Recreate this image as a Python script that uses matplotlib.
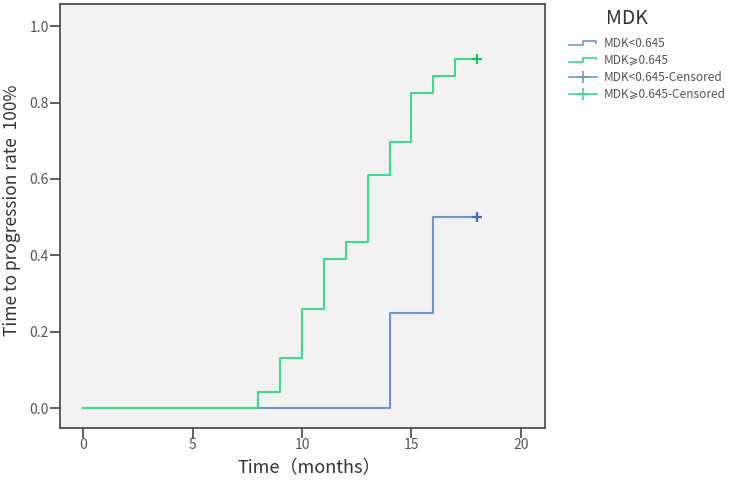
import matplotlib
matplotlib.use("Agg")
import matplotlib.pyplot as plt
from matplotlib.lines import Line2D
from matplotlib.legend_handler import HandlerBase

plt.rcParams['font.family'] = ['Noto Sans CJK SC', 'DejaVu Sans']

# step data (time in months, cumulative progression rate)
low_times = [0, 14, 16, 18]
low_rates = [0.0, 0.25, 0.5, 0.5]
high_times = [0, 8, 9, 10, 11, 12, 13, 14, 15, 16, 17, 18]
high_rates = [0.0, 0.043, 0.13, 0.26, 0.39, 0.435, 0.609, 0.696, 0.826, 0.87, 0.913, 0.913]
censor_low = [18]
censor_low_rate = [0.5]
censor_high = [18]
censor_high_rate = [0.913]

labels = ["MDK<0.645", "MDK\u2a7e0.645", "MDK<0.645-Censored", "MDK\u2a7e0.645-Censored"]

blue = "#7593cb"
green = "#3ed98c"
blue_dark = "#4a69b3"
green_dark = "#17c067"


class StepHandler(HandlerBase):
    def create_artists(self, legend, orig_handle, xdescent, ydescent,
                       width, height, fontsize, trans):
        x0, x1 = -xdescent, -xdescent + width
        ym = -ydescent + height * 0.25
        yt = -ydescent + height * 0.75
        xs = [x0, x0 + width * 0.5, x0 + width * 0.5, x1 - width * 0.05, x1 - width * 0.05]
        ys = [ym, ym, yt, yt, ym + height * 0.3]
        ln = Line2D(xs, ys, color=orig_handle.get_color(), lw=1.2, transform=trans)
        return [ln]


fig = plt.figure(figsize=(7.33, 4.88), dpi=100)
ax = fig.add_axes([0.0819, 0.123, 0.6617, 0.8689])
ax.set_facecolor("#f2f2f2")

ax.step(low_times, low_rates, where="post", color=blue, lw=1.5)
ax.step(high_times, high_rates, where="post", color=green, lw=1.5)
ax.plot(censor_low, censor_low_rate, marker="+", color=blue_dark, ms=7, mew=1.6, ls="none")
ax.plot(censor_high, censor_high_rate, marker="+", color=green_dark, ms=7, mew=1.6, ls="none")

ax.set_xlim(-1.07, 21.11)
ax.set_ylim(-0.052, 1.058)
ax.set_xticks([0, 5, 10, 15, 20])
ax.set_yticks([0.0, 0.2, 0.4, 0.6, 0.8, 1.0])
ax.set_yticklabels(["0.0", "0.2", "0.4", "0.6", "0.8", "1.0"])
ax.tick_params(direction="out", length=7, width=1.2, color="#444444",
               labelsize=10, labelcolor="#555555")
ax.tick_params(axis="x", pad=0)
ax.tick_params(axis="y", pad=1)
for s in ax.spines.values():
    s.set_color("#444444")
    s.set_linewidth(1.2)

ax.set_xlabel("Time\uff08months\uff09", fontsize=13, color="#333333")
ax.set_ylabel("Time to progression rate  100%", fontsize=12.5, color="#333333")
ax.xaxis.set_label_coords(0.513, -0.094)
ax.yaxis.set_label_coords(-0.099, 0.514)
ax.xaxis.label.set_va("center")
ax.yaxis.label.set_va("center")

# legend
h_low = Line2D([], [], color=blue)
h_high = Line2D([], [], color=green)
h_cl = Line2D([], [], color=blue, marker="+", ms=9, mew=1.2, lw=1.2)
h_ch = Line2D([], [], color=green, marker="+", ms=9, mew=1.2, lw=1.2)
leg = fig.legend([h_low, h_high, h_cl, h_ch], labels,
                 handler_map={h_low: StepHandler(), h_high: StepHandler()},
                 loc="upper left", bbox_to_anchor=(0.776, 0.924),
                 frameon=False, fontsize=8.5, handlelength=2.4, handletextpad=0.6,
                 labelspacing=0.33, borderaxespad=0, borderpad=0)
for t in leg.get_texts():
    t.set_color("#555555")
fig.text(0.855, 0.963, "MDK", fontsize=14, color="#333333", ha="center", va="center")

fig.savefig("out.png", dpi=100)
